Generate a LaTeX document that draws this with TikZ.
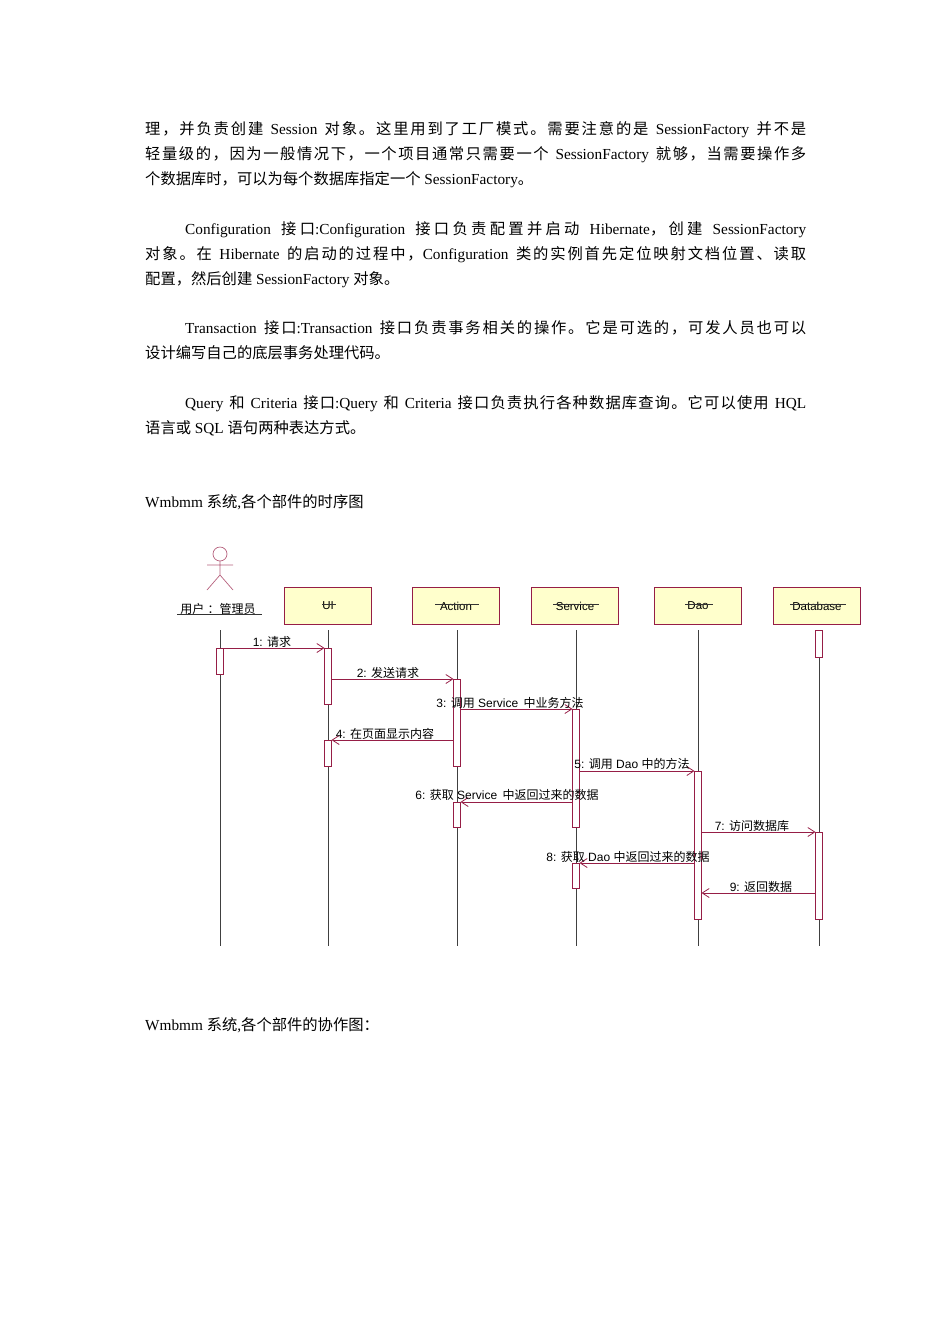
\documentclass[tikz,border=0pt]{standalone}
\usepackage{fontspec}
\usetikzlibrary{arrows.meta}
\setmainfont{Liberation Serif}
\setsansfont{Liberation Sans}
\newfontfamily\cjk{Noto Sans CJK SC}
\def\latinfont{\rmfamily}
\XeTeXinterchartokenstate=1
\newXeTeXintercharclass\cjkclass
\newcount\cc
\cc="3000 \loop\XeTeXcharclass\cc=\cjkclass \advance\cc by 1 \ifnum\cc<"3040 \repeat
\cc="4E00 \loop\XeTeXcharclass\cc=\cjkclass \advance\cc by 1 \ifnum\cc<"A000 \repeat
\cc="FF00 \loop\XeTeXcharclass\cc=\cjkclass \advance\cc by 1 \ifnum\cc<"FFF0 \repeat
\XeTeXinterchartoks 0 \cjkclass = {\cjk}
\XeTeXinterchartoks 4095 \cjkclass = {\cjk}
\XeTeXinterchartoks \cjkclass 0 = {\latinfont}
\XeTeXinterchartoks \cjkclass 4095 = {\latinfont}
\XeTeXinterchartoks \cjkclass \cjkclass = {\hskip 0pt plus 1pt\relax}
\definecolor{umlred}{RGB}{150,30,70}
\definecolor{umlfill}{RGB}{255,255,204}
\tikzset{
 body/.style={anchor=base west,inner sep=0pt,font=\def\latinfont{\rmfamily}\rmfamily\fontsize{15.3}{18}\selectfont},
 obj/.style={draw=umlred,fill=umlfill,minimum width=87pt,minimum height=37pt,inner sep=0pt,font=\def\latinfont{\sffamily}\sffamily\fontsize{11.5}{13}\selectfont},
 life/.style={draw=black!75,line width=0.8pt},
 act/.style={draw=umlred,fill=white,line width=0.7pt},
 msg/.style={draw=umlred,line width=0.8pt,-{Straight Barb[length=7pt,width=9pt]}},
 lab/.style={inner sep=0pt,anchor=base,font=\def\latinfont{\sffamily}\sffamily\fontsize{12}{14}\selectfont},
}
\newcommand\fl[2][661pt]{\makebox[#1][s]{#2}}
\begin{document}
\begin{tikzpicture}[x=1pt,y=-1pt]
\useasboundingbox (0,0) rectangle (950,1344);
% body text
\node[body] (l1) at (145,134) {\fl{理，并负责创建 Session 对象。这里用到了工厂模式。需要注意的是 SessionFactory 并不是}};
\node[body] (l2) at (145,159) {\fl{轻量级的，因为一般情况下，一个项目通常只需要一个 SessionFactory 就够，当需要操作多}};
\node[body] (l3) at (145,184) {个数据库时，可以为每个数据库指定一个 SessionFactory。};
\node[body] (l4) at (185,234) {\fl[621pt]{Configuration 接口:Configuration 接口负责配置并启动 Hibernate，创建 SessionFactory}};
\node[body] (l5) at (145,259) {\fl{对象。在 Hibernate 的启动的过程中，Configuration 类的实例首先定位映射文档位置、读取}};
\node[body] (l6) at (145,284) {配置，然后创建 SessionFactory 对象。};
\node[body] (l7) at (185,333) {\fl[621pt]{Transaction 接口:Transaction 接口负责事务相关的操作。它是可选的，可发人员也可以}};
\node[body] (l8) at (145,358) {设计编写自己的底层事务处理代码。};
\node[body] (l9) at (185,408) {\fl[621pt]{Query 和 Criteria 接口:Query 和 Criteria 接口负责执行各种数据库查询。它可以使用 HQL}};
\node[body] (l10) at (145,433) {语言或 SQL 语句两种表达方式。};
\node[body] (t1) at (145,507) {Wmbmm 系统,各个部件的时序图};
\node[body] (t2) at (145,1030) {Wmbmm 系统,各个部件的协作图：};
% actor
\draw[umlred!70,line width=0.7pt] (220,554) circle (7);
\draw[umlred!70,line width=0.7pt] (220,561)--(220,575) (207,565)--(233,565) (207,590)--(220,575)--(233,590);
\node[lab] (actl) at (218,613) {用户 ：管理员};
\draw[black!80] (177,614)--(262,614);
% objects
\foreach \n/\x/\t in {ui/328/UI,action/456/Action,service/575/Service,dao/698/Dao,db/817/Database}{
 \node[obj] (\n) at (\x,606) {\t};
}
\foreach \x/\w in {328/12,456/42,575/44,698/26,817/54}{\draw[black!80] (\x-\w/2,604)--(\x+\w/2+2,604);}
% lifelines
\coordinate (u0) at (220,630); \coordinate (u1) at (220,946);
\draw[life] (u0)--(u1);
\foreach \n/\x in {ui/328,action/457,service/576,dao/698,db/819}{
 \coordinate (\n b) at (\x,946);
 \draw[life] (\x,630)--(\n b);
}
% activations
\draw[act] (216.5,648) rectangle (223.5,674);
\draw[act] (324.5,648) rectangle (331.5,704);
\draw[act] (453.5,679) rectangle (460.5,766);
\draw[act] (572.5,709) rectangle (579.5,827);
\draw[act] (324.5,740) rectangle (331.5,766);
\draw[act] (694.5,771) rectangle (701.5,919);
\draw[act] (453.5,802) rectangle (460.5,827);
\draw[act] (815.5,630) rectangle (822.5,657);
\draw[act] (815.5,832) rectangle (822.5,919);
\draw[act] (572.5,863) rectangle (579.5,888);
% messages
\coordinate (m1a) at (223.5,648); \coordinate (m1b) at (324.5,648);
\coordinate (m2a) at (331.5,679); \coordinate (m2b) at (453.5,679);
\coordinate (m3a) at (460.5,709); \coordinate (m3b) at (572.5,709);
\coordinate (m4a) at (453.5,740); \coordinate (m4b) at (331.5,740);
\coordinate (m5a) at (579.5,771); \coordinate (m5b) at (694.5,771);
\coordinate (m6a) at (572.5,802); \coordinate (m6b) at (460.5,802);
\coordinate (m7a) at (701.5,832); \coordinate (m7b) at (815.5,832);
\coordinate (m8a) at (694.5,863); \coordinate (m8b) at (579.5,863);
\coordinate (m9a) at (815.5,893); \coordinate (m9b) at (701.5,893);
\foreach \i in {1,...,9}{\draw[msg] (m\i a)--(m\i b);}
\node[lab] (ml1) at (272,646) {1: 请求};
\node[lab] (ml2) at (388,677) {2: 发送请求};
\node[lab] (ml3) at (510,707) {3: 调用 Service\, 中业务方法};
\node[lab] (ml4) at (385,738) {4: 在页面显示内容};
\node[lab] (ml5) at (632,768) {5: 调用 Dao 中的方法};
\node[lab] (ml6) at (507,799) {6: 获取 Service\, 中返回过来的数据};
\node[lab] (ml7) at (752,830) {7: 访问数据库};
\node[lab] (ml8) at (628,861) {8: 获取 Dao 中返回过来的数据};
\node[lab] (ml9) at (761,891) {9: 返回数据};
\end{tikzpicture}
\end{document}
